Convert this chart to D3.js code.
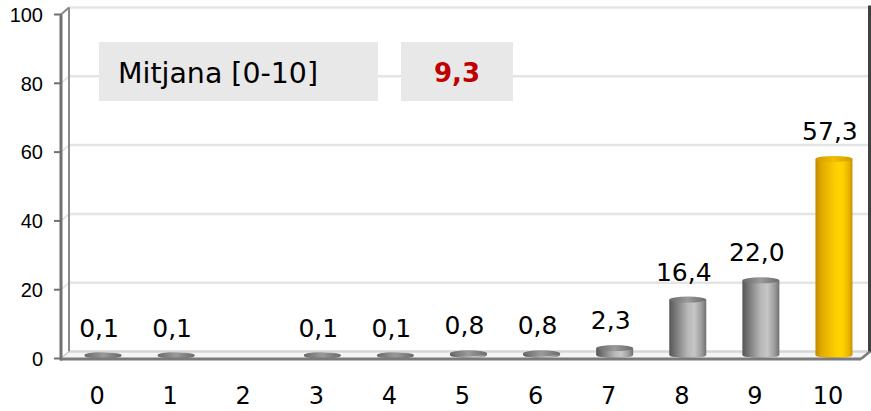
<!DOCTYPE html>
<html>
<head>
<meta charset="utf-8">
<script src="https://cdn.jsdelivr.net/npm/d3@7"></script>
<style>
  html, body { margin: 0; padding: 0; background: #ffffff; }
  svg { display: block; }
</style>
</head>
<body>
<svg id="chart" width="871" height="411"></svg>
<script>
// Score distribution on a 0–10 scale (percent of answers)
const categories = ["0", "1", "2", "3", "4", "5", "6", "7", "8", "9", "10"];
const values = [0.1, 0.1, null, 0.1, 0.1, 0.8, 0.8, 2.3, 16.4, 22.0, 57.3];
const yTicks = [0, 20, 40, 60, 80, 100];
const meanLabel = "Mitjana [0-10]";
const meanValue = 9.3;

const fmt = v => d3.format(".1f")(v).replace(".", ",");

const svg = d3.select("#chart");

// 3D depth of the plot box: back plane is shifted right and up
const depthX = 8, depthY = -7;

const x = d3.scaleBand().domain(categories).range([60.5, 864.5]).padding(0);
const y = d3.scaleLinear().domain([0, 100]).range([356, 12]);
const yFront = v => y(v) + 2.5;
const yBack = v => y(v) + 2.5 + depthY;

const frontLeft = 61, backLeft = frontLeft + depthX;
const backRight = 869;
const frontRight = backRight - depthX;

const defs = svg.append("defs");
function cylGradient(id, stops) {
  const g = defs.append("linearGradient").attr("id", id)
    .attr("x1", "0%").attr("x2", "100%").attr("y1", "0%").attr("y2", "0%");
  stops.forEach(([o, c]) => g.append("stop").attr("offset", o).attr("stop-color", c));
}
cylGradient("gGray", [[0, "#555555"], [0.12, "#6e6e6e"], [0.5, "#b8b8b8"], [0.68, "#c6c6c6"], [0.88, "#9a9a9a"], [1, "#707070"]]);
cylGradient("gGold", [[0, "#c08c00"], [0.15, "#e0a800"], [0.55, "#ffcf00"], [0.72, "#ffd400"], [0.9, "#eab400"], [1, "#c89200"]]);
cylGradient("gGrayTop", [[0, "#6a6a6a"], [0.5, "#9a9a9a"], [1, "#6a6a6a"]]);
cylGradient("gGoldTop", [[0, "#d09a00"], [0.5, "#f0c000"], [1, "#d09a00"]]);

// floor
svg.append("polygon")
  .attr("points", [[frontLeft, yFront(0)], [frontRight, yFront(0)], [backRight, yBack(0)], [backLeft, yBack(0)]].map(p => p.join(",")).join(" "))
  .attr("fill", "#f5f5f5");

// back-wall gridlines and side-wall connectors
const grid = svg.append("g");
yTicks.forEach(t => {
  grid.append("line")
    .attr("x1", backLeft).attr("x2", backRight - 1)
    .attr("y1", yBack(t)).attr("y2", yBack(t))
    .attr("stroke", t === 0 ? "#d6d6d6" : "#e4e4e4").attr("stroke-width", 2.5);
  grid.append("line")
    .attr("x1", frontLeft).attr("x2", backLeft)
    .attr("y1", yFront(t)).attr("y2", yBack(t))
    .attr("stroke", "#e0e0e0").attr("stroke-width", 1.5);
});

// left wall edges
svg.append("line")
  .attr("x1", backLeft).attr("x2", backLeft)
  .attr("y1", yBack(100)).attr("y2", yBack(0))
  .attr("stroke", "#8a8a8a").attr("stroke-width", 2);
svg.append("line")
  .attr("x1", frontLeft).attr("x2", backLeft)
  .attr("y1", yFront(100)).attr("y2", yBack(100))
  .attr("stroke", "#8a8a8a").attr("stroke-width", 2);

// right wall edge
svg.append("line")
  .attr("x1", backRight + 0.5).attr("x2", backRight + 0.5)
  .attr("y1", yBack(100) - 2).attr("y2", yBack(0) + 1)
  .attr("stroke", "#404040").attr("stroke-width", 3);

// mean value boxes
const boxes = svg.append("g");
boxes.append("rect").attr("x", 99).attr("y", 42).attr("width", 279).attr("height", 59).attr("fill", "#e8e8e8");
boxes.append("rect").attr("x", 401).attr("y", 42).attr("width", 112).attr("height", 59).attr("fill", "#e8e8e8");
boxes.append("text").attr("x", 118).attr("y", 83)
  .attr("font-family", "'DejaVu Sans', sans-serif").attr("font-size", 28).attr("fill", "#000000")
  .attr("textLength", 200).attr("lengthAdjust", "spacingAndGlyphs")
  .text(meanLabel);
boxes.append("text").attr("x", 457).attr("y", 82).attr("text-anchor", "middle")
  .attr("font-family", "'DejaVu Sans', sans-serif").attr("font-size", 26).attr("font-weight", "bold")
  .attr("fill", "#c00000")
  .text(fmt(meanValue));

// cylinders
const barW = 37, ry = 3, barShift = 6;
const data = categories.map((c, i) => ({ c, v: values[i], last: i === categories.length - 1 }))
  .filter(d => d.v !== null);
const bars = svg.append("g").selectAll("g").data(data).join("g");
const cx = d => x(d.c) + x.bandwidth() / 2 + barShift;
const baseY = y(0) - 1;
bars.append("rect")
  .attr("x", d => cx(d) - barW / 2)
  .attr("y", d => y(d.v))
  .attr("width", barW)
  .attr("height", d => baseY - y(d.v))
  .attr("fill", d => d.last ? "url(#gGold)" : "url(#gGray)");
bars.append("ellipse")
  .attr("cx", cx).attr("cy", baseY).attr("rx", barW / 2).attr("ry", ry)
  .attr("fill", d => d.last ? "url(#gGold)" : "url(#gGray)");
bars.append("ellipse")
  .attr("cx", cx).attr("cy", d => y(d.v)).attr("rx", barW / 2).attr("ry", ry)
  .attr("fill", d => d.last ? "url(#gGoldTop)" : "url(#gGrayTop)");

// value labels
bars.append("text")
  .attr("x", d => x(d.c) + x.bandwidth() / 2 + 2)
  .attr("y", d => y(d.v) - ry - 16)
  .attr("text-anchor", "middle")
  .attr("font-family", "'DejaVu Sans', sans-serif").attr("font-size", 25).attr("fill", "#000000")
  .text(d => fmt(d.v));

// floor front edge and right corner
svg.append("line")
  .attr("x1", frontLeft - 1).attr("x2", frontRight)
  .attr("y1", yFront(0) + 0.5).attr("y2", yFront(0) + 0.5)
  .attr("stroke", "#7a7a7a").attr("stroke-width", 3);
svg.append("line")
  .attr("x1", frontRight).attr("x2", backRight + 1)
  .attr("y1", yFront(0) + 0.5).attr("y2", yBack(0))
  .attr("stroke", "#7a7a7a").attr("stroke-width", 2.5);
svg.append("line")
  .attr("x1", frontLeft).attr("x2", backLeft)
  .attr("y1", yFront(0)).attr("y2", yBack(0))
  .attr("stroke", "#cfcfcf").attr("stroke-width", 1.5);

// y axis (front edge of the left wall)
const yAxisG = svg.append("g");
yAxisG.append("line")
  .attr("x1", frontLeft).attr("x2", frontLeft)
  .attr("y1", yFront(100)).attr("y2", yFront(0) + 2)
  .attr("stroke", "#707070").attr("stroke-width", 3);
yTicks.forEach(t => {
  yAxisG.append("line")
    .attr("x1", 54).attr("x2", frontLeft)
    .attr("y1", yFront(t)).attr("y2", yFront(t))
    .attr("stroke", "#707070").attr("stroke-width", 2);
  yAxisG.append("text")
    .attr("x", 43).attr("y", yFront(t)).attr("dy", "0.36em")
    .attr("text-anchor", "end")
    .attr("font-family", "'Liberation Sans', Arial, sans-serif").attr("font-size", 20)
    .attr("fill", "#000000")
    .text(t);
});

// x axis labels
const xAxis = d3.axisBottom(x).tickSize(0).tickPadding(0);
const xg = svg.append("g").attr("transform", `translate(0, 386)`).call(xAxis);
xg.select(".domain").remove();
xg.selectAll("text")
  .attr("dy", "0.75em")
  .attr("font-family", "'DejaVu Sans', sans-serif").attr("font-size", 24).attr("fill", "#000000");
</script>
</body>
</html>
